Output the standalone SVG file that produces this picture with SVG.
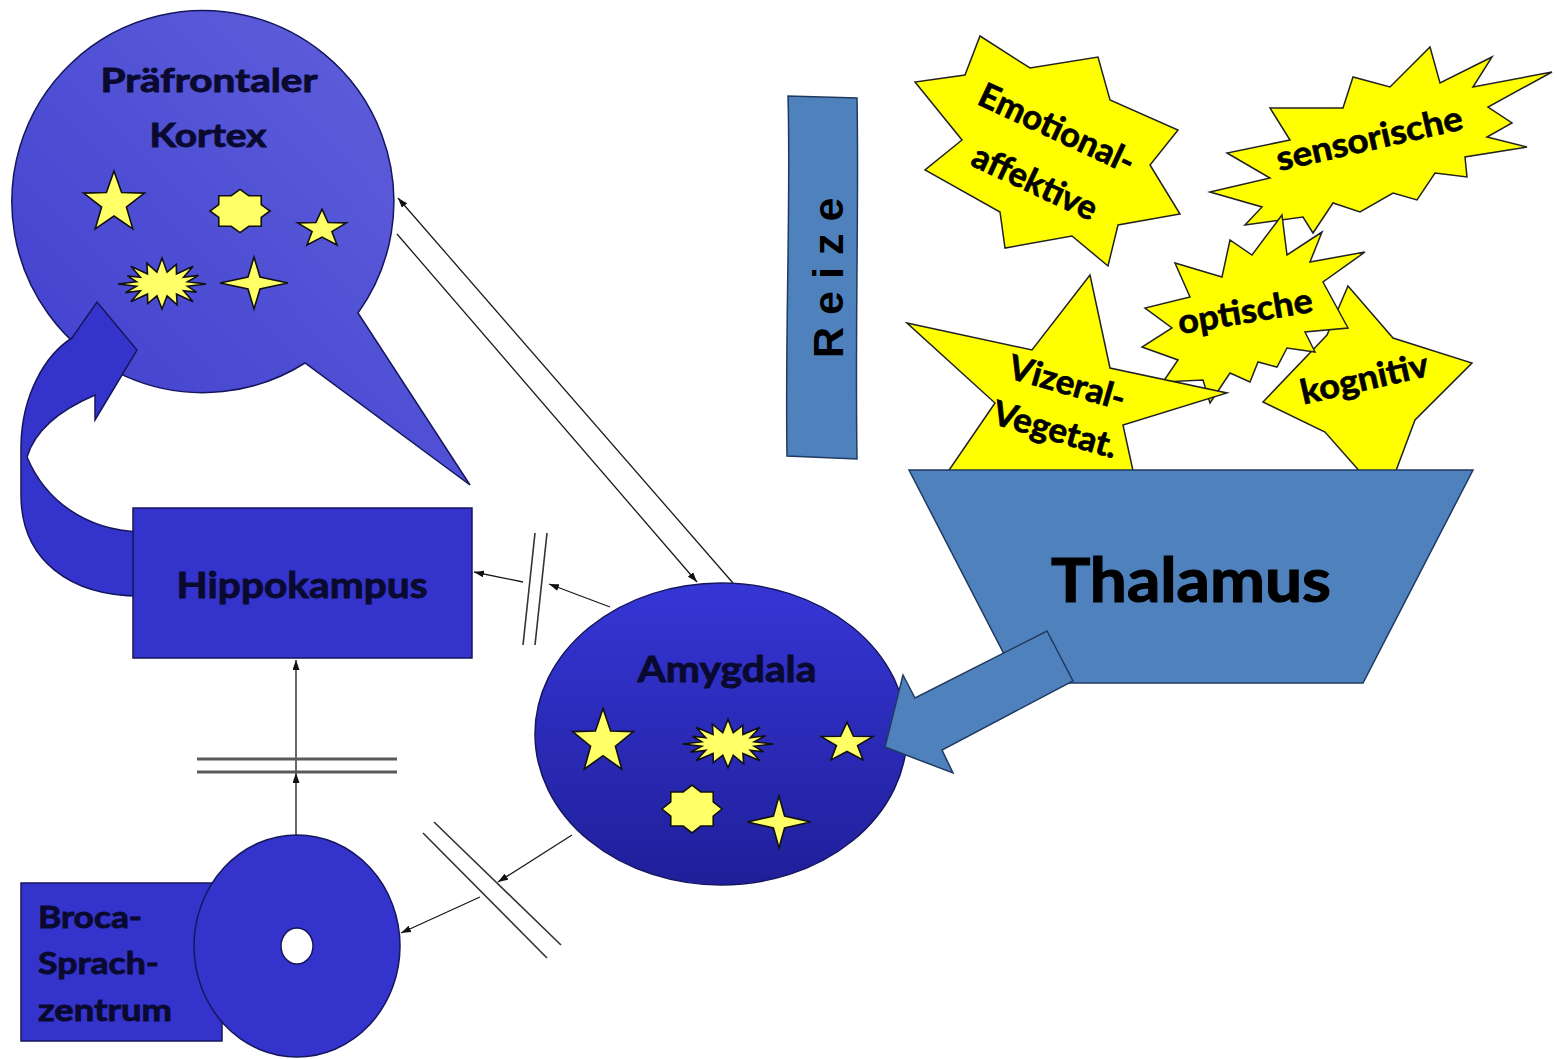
<svg xmlns="http://www.w3.org/2000/svg" xmlns:xlink="http://www.w3.org/1999/xlink" width="1557" height="1059" viewBox="0 0 1557 1059">
<defs>
<style>
.nt{font-family:Lato,"Open Sans","Liberation Sans",sans-serif;font-weight:700;fill:#0a0a30;stroke:#0a0a30;stroke-width:0.9px;}
.st{font-family:Lato,"Open Sans","Liberation Sans",sans-serif;font-weight:700;fill:#000;stroke:#000;stroke-width:0.7px;font-size:34px;}
.conn{stroke:#1a1a1a;stroke-width:1.3;fill:none;}
.brk{stroke:#333;stroke-width:1.6;fill:none;}
.brk2{stroke:#5a5a5a;stroke-width:3;fill:none;}
.icon{fill:#ffff66;stroke:#111;stroke-width:1.6;}
.burst{fill:#ffff00;stroke:#222;stroke-width:1.5;stroke-linejoin:miter;}
.steel{fill:#4f81bd;stroke:#1f3a60;stroke-width:1.5;}
.blue{fill:#3434cc;stroke:#16165e;stroke-width:1.5;}
</style>
<linearGradient id="gPre" x1="0" y1="1" x2="1" y2="0">
<stop offset="0" stop-color="#3d3dce"/><stop offset="1" stop-color="#6363dc"/>
</linearGradient>
<linearGradient id="gAmy" x1="0" y1="0" x2="0" y2="1">
<stop offset="0" stop-color="#3636d6"/><stop offset="1" stop-color="#1f1f9a"/>
</linearGradient>
<marker id="ah" viewBox="0 0 10 7" refX="10" refY="3.5" markerWidth="10" markerHeight="7" markerUnits="userSpaceOnUse" orient="auto">
<path d="M0,0 L10,3.5 L0,7 Z" fill="#111"/>
</marker>
<path id="star5" vector-effect="non-scaling-stroke" d="M0,-32 L7.6,-10.5 L30.4,-9.9 L12.4,4 L18.8,25.9 L0,13 L-18.8,25.9 L-12.4,4 L-30.4,-9.9 L-7.6,-10.5 Z"/>
<path id="seal" vector-effect="non-scaling-stroke" d="M30,0 L21.25,8.8 L21.2,21.2 L8.8,21.25 L0,30 L-8.8,21.25 L-21.2,21.2 L-21.25,8.8 L-30,0 L-21.25,-8.8 L-21.2,-21.2 L-8.8,-21.25 L0,-30 L8.8,-21.25 L21.2,-21.2 L21.25,-8.8 Z"/>
<path id="star4" vector-effect="non-scaling-stroke" d="M0,-26 L6,-6 L34,0 L6,6 L0,26 L-6,6 L-34,0 L-6,-6 Z"/>
<path id="expl" vector-effect="non-scaling-stroke" d="M44,0 L25.5,2.3 L34.6,8.1 L21.6,6.7 L31.1,17.7 L14.5,10 L15.2,20.8 L5.1,11.8 L0,25 L-5.1,11.8 L-14.3,19.6 L-14.5,10 L-31.1,17.7 L-21.6,6.7 L-36.6,8.6 L-25.5,2.3 L-44,0 L-25.5,-2.3 L-34.6,-8.1 L-21.6,-6.7 L-31.1,-17.7 L-14.5,-10 L-15.2,-20.8 L-5.1,-11.8 L0,-26 L5.1,-11.8 L14.3,-19.6 L14.5,-10 L31.1,-17.7 L21.6,-6.7 L36.6,-8.6 L25.5,-2.3 Z"/>
</defs>

<rect x="0" y="0" width="1557" height="1059" fill="#ffffff"/>

<!-- Stimuli stars -->
<g id="sensorische">
<polygon class="burst" points="1210,192 1270,178 1227,153 1290,140 1270,108 1343,108 1353,77 1390,87 1430,47 1440,83 1492,57 1473,87 1552,72 1488,107 1512,123 1487,137 1527,147 1465,157 1467,177 1435,173 1417,200 1393,193 1360,212 1333,203 1313,233 1303,217 1245,225 1262,207"/>
<text class="st" text-anchor="middle" transform="rotate(-12.8 1372 150)" x="1372" y="150" textLength="190" lengthAdjust="spacingAndGlyphs">sensorische</text>
</g>
<g id="kognitiv">
<polygon class="burst" points="1348,286 1393,338 1472,363 1415,420 1385,500 1325,432 1263,402 1327,335"/>
<text class="st" text-anchor="middle" transform="rotate(-12.8 1367 390)" x="1367" y="390" textLength="130" lengthAdjust="spacingAndGlyphs">kognitiv</text>
</g>
<g id="optische">
<polygon class="burst" points="1282,215 1287,255 1322,232 1310,262 1365,252 1323,282 1348,328 1305,332 1315,352 1287,348 1277,367 1258,362 1250,382 1230,373 1210,403 1203,380 1163,382 1178,360 1142,347 1172,328 1145,308 1190,297 1175,263 1222,277 1230,240 1252,255"/>
<text class="st" text-anchor="middle" transform="rotate(-9.6 1247 323)" x="1247" y="323" textLength="136" lengthAdjust="spacingAndGlyphs">optische</text>
</g>
<g id="vizeral">
<polygon class="burst" points="907,323 1032,350 1090,275 1110,368 1227,393 1123,425 1135,480 1085,476 945,476 995,403"/>
<text class="st" text-anchor="middle" transform="rotate(16 1064 394)" x="1064" y="394" textLength="120" lengthAdjust="spacingAndGlyphs">Vizeral-</text>
<text class="st" text-anchor="middle" transform="rotate(16 1052 441)" x="1052" y="441" textLength="128" lengthAdjust="spacingAndGlyphs">Vegetat.</text>
</g>
<g id="emotional">
<polygon class="burst" points="980,36 1030,68 1098,57 1110,100 1178,130 1150,165 1180,214 1118,225 1108,266 1072,236 1005,248 1000,212 925,170 962,140 915,82 965,75"/>
<text class="st" text-anchor="middle" transform="rotate(25 1052 139)" x="1052" y="139" textLength="168" lengthAdjust="spacingAndGlyphs">Emotional-</text>
<text class="st" text-anchor="middle" transform="rotate(25 1030 193)" x="1030" y="193" textLength="134" lengthAdjust="spacingAndGlyphs">affektive</text>
</g>

<!-- Reize -->
<g id="reize">
<path class="steel" d="M788,96 C791,200 785,330 787,456 L857,459 C855,330 859,200 857,98 Z"/>
<text transform="translate(843,358) rotate(-90)" x="0" y="0" font-family="'Liberation Sans',Arial,sans-serif" font-weight="700" font-size="43" letter-spacing="12" fill="#000">Reize</text>
</g>

<!-- Thalamus -->
<g id="thalamus">
<polygon class="steel" points="909,470 1473,470 1363,683 1019,683"/>
<text class="nt" style="fill:#000;stroke:#000;stroke-width:1.2px" font-size="62" text-anchor="middle" x="1191" y="602" textLength="280" lengthAdjust="spacingAndGlyphs">Thalamus</text>
</g>

<!-- Connectors -->
<g id="connectors">
<line class="conn" x1="733" y1="583" x2="398" y2="198" marker-end="url(#ah)"/>
<line class="conn" x1="397" y1="234" x2="697" y2="582" marker-end="url(#ah)"/>
<line class="conn" x1="610" y1="607" x2="549" y2="584" marker-end="url(#ah)"/>
<line class="conn" x1="523" y1="582" x2="474" y2="572" marker-end="url(#ah)"/>
<line class="brk" x1="535" y1="533" x2="523" y2="645"/>
<line class="brk" x1="547" y1="533" x2="535" y2="645"/>
<line class="conn" x1="296" y1="835" x2="296" y2="773" marker-end="url(#ah)"/>
<line class="conn" x1="296" y1="773" x2="296" y2="660" marker-end="url(#ah)"/>
<line class="brk2" x1="197" y1="759" x2="397" y2="759"/>
<line class="brk2" x1="197" y1="772" x2="397" y2="772"/>
<line class="conn" x1="572" y1="835" x2="498" y2="882" marker-end="url(#ah)"/>
<line class="conn" x1="480" y1="897" x2="401" y2="933" marker-end="url(#ah)"/>
<line class="brk" x1="423" y1="833" x2="547" y2="958"/>
<line class="brk" x1="434" y1="822" x2="561" y2="945"/>
</g>

<!-- Prefrontal cortex -->
<g id="praefrontaler-kortex">
<path d="M358,313 L470,485 L305,363 A191,191 0 1 1 358,313 Z" fill="url(#gPre)" stroke="#16165e" stroke-width="1.5"/>
<text class="nt" font-size="32" text-anchor="middle" x="209" y="92" textLength="217" lengthAdjust="spacingAndGlyphs">Präfrontaler</text>
<text class="nt" font-size="32" text-anchor="middle" x="208" y="147" textLength="117" lengthAdjust="spacingAndGlyphs">Kortex</text>
<use xlink:href="#star5" class="icon" transform="translate(114,203)"/>
<use xlink:href="#seal" class="icon" transform="translate(240,211) scale(1,0.72)"/>
<use xlink:href="#star5" class="icon" transform="translate(322,229) scale(0.8,0.62)"/>
<use xlink:href="#expl" class="icon" transform="translate(162,284)"/>
<use xlink:href="#star4" class="icon" transform="translate(254,283)"/>
</g>

<!-- Curved arrow hippocampus -> prefrontal -->
<g id="curved-arrow">
<path class="blue" d="M140,596 C70,596 21,560 21,495 L21,445 C22,395 45,355 72,338 L97,302 L137,350 L95,420 L95,395 C60,410 35,430 27,457 C45,500 85,530 140,532 Z"/>
</g>

<!-- Hippocampus -->
<g id="hippokampus">
<rect class="blue" x="133" y="508" width="339" height="150"/>
<text class="nt" font-size="36" text-anchor="middle" x="302" y="598" textLength="251" lengthAdjust="spacingAndGlyphs">Hippokampus</text>
</g>

<!-- Amygdala -->
<g id="amygdala">
<ellipse cx="721" cy="734" rx="186" ry="151" fill="url(#gAmy)" stroke="#16165e" stroke-width="1.5"/>
<text class="nt" font-size="37" text-anchor="middle" x="727" y="682" textLength="179" lengthAdjust="spacingAndGlyphs">Amygdala</text>
<use xlink:href="#star5" class="icon" transform="translate(603,742) scale(1,1.05)"/>
<use xlink:href="#expl" class="icon" transform="translate(728,744) scale(1.03,0.95)"/>
<use xlink:href="#star5" class="icon" transform="translate(847,743) scale(0.85,0.65)"/>
<use xlink:href="#seal" class="icon" transform="translate(692,809) scale(1,0.8)"/>
<use xlink:href="#star4" class="icon" transform="translate(779,822) scale(0.93,1)"/>
</g>

<!-- Thalamus -> Amygdala block arrow -->
<g id="thalamus-arrow">
<polygon class="steel" points="1047,631 1073,681 942,750 953,773 885,747 903,675 915,698"/>
</g>

<!-- Broca -->
<g id="broca">
<rect class="blue" x="21" y="883" width="201" height="158"/>
<ellipse class="blue" cx="297" cy="946" rx="103" ry="111"/>
<ellipse cx="297" cy="946" rx="16" ry="18" fill="#ffffff" stroke="#16165e" stroke-width="1.5"/>
<text class="nt" font-size="31" x="38" y="928" textLength="104" lengthAdjust="spacingAndGlyphs">Broca-</text>
<text class="nt" font-size="31" x="38" y="974" textLength="121" lengthAdjust="spacingAndGlyphs">Sprach-</text>
<text class="nt" font-size="31" x="38" y="1021" textLength="134" lengthAdjust="spacingAndGlyphs">zentrum</text>
</g>
</svg>
